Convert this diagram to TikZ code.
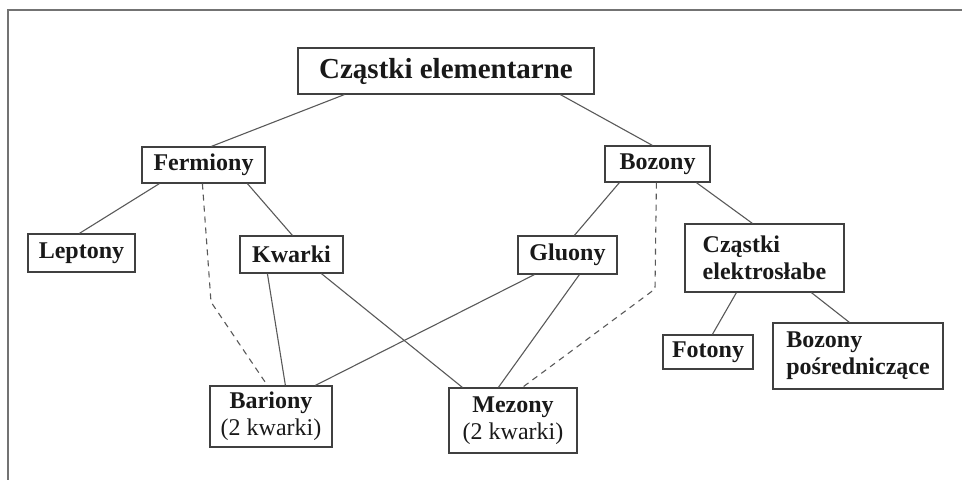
\documentclass[tikz,border=0pt]{standalone}
\usepackage{fontspec}
\setmainfont{Liberation Serif}
\usepackage{tikz}
\usetikzlibrary{calc}

\begin{document}
\begin{tikzpicture}[
    x=0.5pt, y=-0.5pt,
    box/.style={rectangle, draw=black!75, line width=0.6pt, inner sep=0pt, text=black!90, font=\fontsize{12}{13.5}\selectfont\bfseries, align=center},
    link/.style={draw=black!65, line width=0.55pt},
    dlink/.style={link, dash pattern=on 3pt off 2.5pt}
]
\useasboundingbox (0,0) rectangle (962,480);

% Frame
\draw[black!55, line width=0.6pt] (962,10) -- (8,10) -- (8,480);

% Top
\node[box, minimum width=148pt, minimum height=23pt, font=\fontsize{14.5}{16}\selectfont\bfseries] (title) at (446,71) {Cząstki elementarne};

% Fermions
\node[box, minimum width=61.5pt, minimum height=18pt] (ferm) at (203.5,165) {Fermiony};
\node[box, minimum width=53.5pt, minimum height=19pt] (lept) at (81.5,253) {Leptony};
\node[box, minimum width=51.5pt, minimum height=18.5pt] (kwark) at (291.5,254.5) {Kwarki};

% Bosons
\node[box, minimum width=52.5pt, minimum height=18pt] (boz) at (657.5,164) {Bozony};
\node[box, minimum width=49.5pt, minimum height=19pt] (gluon) at (567.5,255) {Gluony};
\node[box, minimum width=79.5pt, minimum height=34pt, align=left] (elweak) at (764.5,258) {Cząstki\\elektrosłabe};
\node[box, minimum width=45pt, minimum height=17pt] (foton) at (708,352) {Fotony};
\node[box, minimum width=85pt, minimum height=33pt, align=left] (posr) at (858,356) {Bozony\\pośredniczące};

% Hadrons
\node[box, minimum width=61pt, minimum height=30.5pt] (barion) at (271,416.5) {Bariony\\{\mdseries (2 kwarki)}};
\node[box, minimum width=64pt, minimum height=32.5pt] (mezon) at (513,420.5) {Mezony\\{\mdseries (2 kwarki)}};

% Links
\draw[link] ($(title.south west)+(47,0)$) -- ($(ferm.north west)+(70,0)$);
\draw[link] ($(title.south west)+(263,0)$) -- ($(boz.north west)+(48,0)$);
\draw[link] ($(ferm.south west)+(18,0)$) -- ($(lept.north west)+(52,0)$);
\draw[link] ($(ferm.south west)+(106,0)$) -- ($(kwark.north west)+(53,0)$);
\draw[link] ($(kwark.south west)+(28,0)$) -- ($(barion.north west)+(76,0)$);
\draw[link] ($(kwark.south west)+(82,0)$) -- ($(mezon.north west)+(14,0)$);
\draw[link] ($(boz.south west)+(15,0)$) -- ($(gluon.north west)+(57,0)$);
\draw[link] ($(gluon.south west)+(17,0)$) -- ($(barion.north west)+(106,0)$);
\draw[link] ($(gluon.south west)+(62,0)$) -- ($(mezon.north west)+(50,0)$);
\draw[link] ($(boz.south west)+(92,0)$) -- ($(elweak.north west)+(68,0)$);
\draw[link] ($(elweak.south west)+(52,0)$) -- ($(foton.north west)+(50,0)$);
\draw[link] ($(elweak.south west)+(127,0)$) -- ($(posr.north west)+(77,0)$);

% Dashed links
\coordinate (fbend) at (211,302);
\coordinate (bbend) at (655,289);
\draw[dlink] ($(ferm.south west)+(61,0)$) -- (fbend) -- ($(barion.north west)+(58,0)$);
\draw[dlink] ($(boz.south west)+(52,0)$) -- (bbend) -- ($(mezon.north west)+(74,0)$);

\end{tikzpicture}
\end{document}
